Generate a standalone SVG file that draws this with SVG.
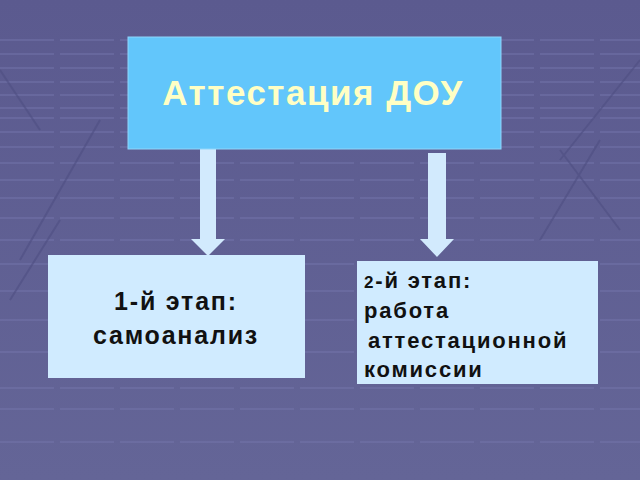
<svg xmlns="http://www.w3.org/2000/svg" width="640" height="480" viewBox="0 0 640 480">
<defs>
<linearGradient id="bg" x1="0" y1="0" x2="0" y2="1">
<stop offset="0" stop-color="#5B5A8F"/>
<stop offset="1" stop-color="#646597"/>
</linearGradient>
<style>
.h{stroke:#7677AE;stroke-width:2;stroke-dasharray:54 6;opacity:.45}
.d{stroke:#4F4E82;stroke-width:2;fill:none;opacity:.6}
.arrow{fill:#D2EAFD}
.t{font-family:"Liberation Sans",Arial,sans-serif;font-weight:bold}
</style>
</defs>
<rect width="640" height="480" fill="url(#bg)"/>
<g id="background-grid">
<line class="h" x1="0" y1="40" x2="640" y2="40"/>
<line class="h" x1="0" y1="54" x2="640" y2="54"/>
<line class="h" x1="0" y1="68" x2="640" y2="68"/>
<line class="h" x1="0" y1="82" x2="640" y2="82"/>
<line class="h" x1="0" y1="95" x2="640" y2="95"/>
<line class="h" x1="0" y1="108" x2="640" y2="108"/>
<line class="h" x1="0" y1="118" x2="640" y2="118"/>
<line class="h" x1="0" y1="132" x2="640" y2="132"/>
<line class="h" x1="0" y1="147" x2="640" y2="147"/>
<line class="h" x1="0" y1="163" x2="640" y2="163"/>
<line class="h" x1="0" y1="180" x2="640" y2="180"/>
<line class="h" x1="0" y1="198" x2="640" y2="198"/>
<line class="h" x1="0" y1="218" x2="640" y2="218"/>
<line class="h" x1="0" y1="240" x2="640" y2="240"/>
<line class="h" x1="0" y1="264" x2="640" y2="264"/>
<line class="h" x1="0" y1="291" x2="640" y2="291"/>
<line class="h" x1="0" y1="320" x2="640" y2="320"/>
<line class="h" x1="0" y1="352" x2="640" y2="352"/>
<line class="h" x1="0" y1="388" x2="640" y2="388"/>
<line class="h" x1="0" y1="409" x2="640" y2="409"/>
<line class="h" x1="0" y1="442" x2="640" y2="442"/>
<path class="d" d="M0 70 L40 130 M100 120 L20 260 M60 220 L10 300"/>
<path class="d" d="M640 60 L560 160 M600 140 L540 240 M560 150 L620 230"/>
</g>
<g id="connectors">
<path class="arrow" d="M200 149 H216 V239 H225 L208 256 L191 239 H200 Z"/>
<path class="arrow" d="M428 153 H446 V239 H454 L437 257 L420 239 H428 Z"/>
</g>
<g id="node-top">
<rect x="128" y="37" width="373" height="112" fill="#62C6FB" stroke="#8FD6FB" stroke-width="1"/>
<text class="t" x="313" y="105" font-size="35" letter-spacing="1.5" fill="#FFFFC4" text-anchor="middle">Аттестация ДОУ</text>
</g>
<g id="node-stage1">
<rect x="48" y="255" width="257" height="123" fill="#D0EBFF"/>
<text class="t" x="176" y="310" font-size="25" letter-spacing="1.8" fill="#111" text-anchor="middle">1-й этап:</text>
<text class="t" x="176" y="344" font-size="25" letter-spacing="1.8" fill="#111" text-anchor="middle">самоанализ</text>
</g>
<g id="node-stage2">
<rect x="357" y="261" width="241" height="123" fill="#D0EBFF"/>
<g class="t" font-size="22" letter-spacing="1.8" fill="#111">
<text x="364" y="288"><tspan font-size="17">2</tspan>-й этап:</text>
<text x="364" y="318">работа</text>
<text x="368" y="348"> аттестационной</text>
<text x="364" y="377">комиссии</text>
</g>
</g>
</svg>
